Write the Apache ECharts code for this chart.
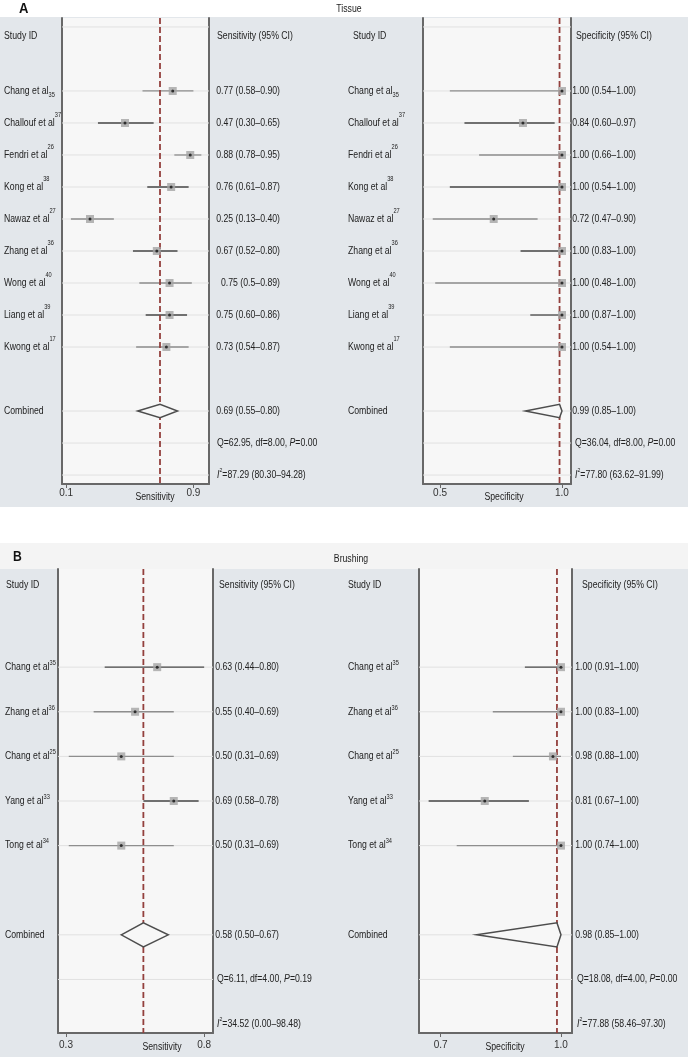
<!DOCTYPE html>
<html><head><meta charset="utf-8">
<script src="https://cdn.jsdelivr.net/npm/echarts@6/dist/echarts.min.js"></script>
<style>html,body{margin:0;padding:0;background:#fff}#c{width:688px;height:1057px}</style>
</head><body><div id="c"></div>
<script>
// ---------------- DATA ----------------
const tissueNames = ['Chang et al','Challouf et al','Fendri et al','Kong et al','Nawaz et al','Zhang et al','Wong et al','Liang et al','Kwong et al'];
const tissueRefs = ['35','37','26','38','27','36','40','39','17'];
const tissueRefPos = ['sub','sup','sup','sup','sup','sup','sup','sup','sup'];

const tissueSens = [0.77,0.47,0.88,0.76,0.25,0.67,0.75,0.75,0.73];
const tissueSensLow = [0.58,0.30,0.78,0.61,0.13,0.52,0.56,0.60,0.54];
const tissueSensHigh = [0.90,0.65,0.95,0.87,0.40,0.80,0.89,0.86,0.87];
const tissueSensText = ['0.77 (0.58–0.90)','0.47 (0.30–0.65)','0.88 (0.78–0.95)','0.76 (0.61–0.87)','0.25 (0.13–0.40)','0.67 (0.52–0.80)','0.75 (0.5–0.89)','0.75 (0.60–0.86)','0.73 (0.54–0.87)'];
const tissueSensPooled = [0.69,0.55,0.80];
const tissueSensPooledText = '0.69 (0.55–0.80)';
const tissueSensQ = ['Q=62.95, df=8.00, ','P','=0.00'];
const tissueSensI2 = '=87.29 (80.30–94.28)';
const tissueSensTicks = [0.1,0.9];

const tissueSpec = [1.00,0.84,1.00,1.00,0.72,1.00,1.00,1.00,1.00];
const tissueSpecLow = [0.54,0.60,0.66,0.54,0.47,0.83,0.48,0.87,0.54];
const tissueSpecHigh = [1.00,0.97,1.00,1.00,0.90,1.00,1.00,1.00,1.00];
const tissueSpecText = ['1.00 (0.54–1.00)','0.84 (0.60–0.97)','1.00 (0.66–1.00)','1.00 (0.54–1.00)','0.72 (0.47–0.90)','1.00 (0.83–1.00)','1.00 (0.48–1.00)','1.00 (0.87–1.00)','1.00 (0.54–1.00)'];
const tissueSpecPooled = [0.99,0.85,1.00];
const tissueSpecPooledText = '0.99 (0.85–1.00)';
const tissueSpecQ = ['Q=36.04, df=8.00, ','P','=0.00'];
const tissueSpecI2 = '=77.80 (63.62–91.99)';
const tissueSpecTicks = [0.5,1.0];

const brushNames = ['Chang et al','Zhang et al','Chang et al','Yang et al','Tong et al'];
const brushRefs = ['35','36','25','33','34'];
const brushRefPos = ['sup','sup','sup','sup','sup'];

const brushSens = [0.63,0.55,0.50,0.69,0.50];
const brushSensLow = [0.44,0.40,0.31,0.58,0.31];
const brushSensHigh = [0.80,0.69,0.69,0.78,0.69];
const brushSensText = ['0.63 (0.44–0.80)','0.55 (0.40–0.69)','0.50 (0.31–0.69)','0.69 (0.58–0.78)','0.50 (0.31–0.69)'];
const brushSensPooled = [0.58,0.50,0.67];
const brushSensPooledText = '0.58 (0.50–0.67)';
const brushSensQ = ['Q=6.11, df=4.00, ','P','=0.19'];
const brushSensI2 = '=34.52 (0.00–98.48)';
const brushSensTicks = [0.3,0.8];

const brushSpec = [1.00,1.00,0.98,0.81,1.00];
const brushSpecLow = [0.91,0.83,0.88,0.67,0.74];
const brushSpecHigh = [1.00,1.00,1.00,0.92,1.00];
const brushSpecText = ['1.00 (0.91–1.00)','1.00 (0.83–1.00)','0.98 (0.88–1.00)','0.81 (0.67–1.00)','1.00 (0.74–1.00)'];
const brushSpecPooled = [0.99,0.79,1.00];
const brushSpecPooledText = '0.98 (0.85–1.00)';
const brushSpecQ = ['Q=18.08, df=4.00, ','P','=0.00'];
const brushSpecI2 = '=77.88 (58.46–97.30)';
const brushSpecTicks = [0.7,1.0];

// ---------------- STYLE ----------------
const FONT = "'Liberation Sans',Arial,Helvetica,sans-serif";
const FS = 10;
const SX = 0.87;
const TXT = '#222';
const tissueShade = ['#8e8e8e','#474747','#8e8e8e','#474747','#8e8e8e','#474747','#8e8e8e','#474747','#8e8e8e'];
const brushShade = ['#474747','#8e8e8e','#8e8e8e','#474747','#8e8e8e'];

const rich = {
  n:{fontSize:FS,fontFamily:FONT,fill:TXT},
  i:{fontSize:FS,fontFamily:FONT,fill:TXT,fontStyle:'italic'},
  sup:{fontSize:6.5,fontFamily:FONT,fill:TXT,padding:[0,0,16,0]},
  supB:{fontSize:6.5,fontFamily:FONT,fill:TXT,padding:[0,0,8,0]},
  sub:{fontSize:6.5,fontFamily:FONT,fill:TXT,padding:[8,0,0,0]},
  isup:{fontSize:6,fontFamily:FONT,fill:TXT,padding:[0,0,10,0]}
};

const grid=[], xAxis=[], yAxis=[], series=[], texts=[];

function hiddenAxes(left, width, L){
  const gi = grid.length;
  grid.push({left:left, top:L.top, width:width, height:L.height, show:false});
  const xi = xAxis.length;
  xAxis.push({gridIndex:gi,type:'value',min:0,max:1,show:false});
  const yi = yAxis.length;
  yAxis.push({gridIndex:gi,type:'value',min:L.yMin,max:L.yMax,inverse:true,show:false});
  return [xi, yi];
}

function addForest(P, L){
  const gi = grid.length;
  grid.push({left:L.plotLeft, top:L.top, width:L.plotWidth, height:L.height, show:true,
    backgroundColor:'#f7f7f7', borderWidth:0});
  const xi = xAxis.length;
  xAxis.push({gridIndex:gi,type:'value',min:L.xMin,max:L.xMax,
    axisLine:{show:true,onZero:false,lineStyle:{color:'#686868',width:2}},
    axisTick:{show:true,customValues:P.ticks,length:4,lineStyle:{color:'#686868',width:1}},
    axisLabel:{show:true,customValues:P.ticks,formatter:v=>v.toFixed(1),fontSize:10,fontFamily:FONT,color:'#333',margin:L.labelMargin},
    splitLine:{show:false}});
  const yi = yAxis.length;
  const yb = {gridIndex:gi,type:'value',min:L.yMin,max:L.yMax,inverse:true,
    axisTick:{show:false},axisLabel:{show:false},splitLine:{show:false},
    axisLine:{show:true,onZero:false,lineStyle:{color:'#686868',width:2}}};
  yAxis.push(Object.assign({},yb,{position:'left'}));
  yAxis.push(Object.assign({},yb,{position:'right'}));

  series.push({type:'custom', xAxisIndex:xi, yAxisIndex:yi, silent:true, z:1, animation:false,
    data:L.gridRows.map(r=>[r]), encode:{y:0},
    renderItem:(params, api)=>{
      const r = api.value(0);
      const a = api.coord([L.xMin,r]), b = api.coord([L.xMax,r]);
      return {type:'line', shape:{x1:a[0],y1:a[1],x2:b[0],y2:b[1]}, style:{stroke:'#e1e1e1',lineWidth:1}};
    }});
  series.push({type:'custom', xAxisIndex:xi, yAxisIndex:yi, silent:true, z:2, animation:false,
    data:P.est.map((e,i)=>[P.lo[i],P.hi[i],i]), encode:{x:[0,1],y:2},
    renderItem:(params, api)=>{
      const r = api.value(2);
      const a = api.coord([api.value(0),r]), b = api.coord([api.value(1),r]);
      return {type:'line', shape:{x1:a[0],y1:a[1],x2:b[0],y2:b[1]},
        style:{stroke:P.shade[params.dataIndex],lineWidth:1.3}};
    }});
  series.push({type:'line', xAxisIndex:xi, yAxisIndex:yi, silent:true, z:3, animation:false,
    symbol:'none', data:[[P.pooled[0],L.yMin],[P.pooled[0],L.yMax]],
    lineStyle:{color:'#93403d',width:1.8,type:[6,3]}});
  series.push({type:'scatter', xAxisIndex:xi, yAxisIndex:yi, silent:true, z:4, animation:false,
    symbol:'rect', symbolSize:8, itemStyle:{color:'#a4a4a4'}, clip:false,
    data:P.est.map((e,i)=>[e,i])});
  series.push({type:'scatter', xAxisIndex:xi, yAxisIndex:yi, silent:true, z:5, animation:false,
    symbol:'circle', symbolSize:3, itemStyle:{color:'#111'}, clip:false,
    data:P.est.map((e,i)=>[e,i])});
  series.push({type:'custom', xAxisIndex:xi, yAxisIndex:yi, silent:true, z:4, animation:false,
    data:[[P.pooled[0],P.pooled[1],P.pooled[2],L.combinedRow]], encode:{x:[0,1,2],y:3},
    renderItem:(params, api)=>{
      const e=api.value(0), lo=api.value(1), hi=api.value(2), r=api.value(3), h=L.diamondH;
      const pts=[api.coord([lo,r]),api.coord([e,r-h]),api.coord([hi,r]),api.coord([e,r+h])];
      return {type:'polygon', shape:{points:pts}, style:{fill:'#f7f7f7',stroke:'#4d4d4d',lineWidth:1.5}};
    }});

  // label column
  const [lx, ly] = hiddenAxes(L.labelLeft, L.labelWidth, L);
  P.names.forEach((n,i)=>texts.push({xi:lx,yi:ly,x:0,y:i,align:'left',
    text:'{n|'+n+'}{'+(P.refPos[i]==='sub'?'sub':L.supStyle)+'|'+P.refs[i]+'}'}));
  texts.push({xi:lx,yi:ly,x:0,y:L.combinedRow,align:'left',text:'{n|Combined}'});

  // value column
  const [tx, ty] = hiddenAxes(L.textLeft, L.textRight-L.textLeft, L);
  P.text.forEach((t,i)=>texts.push({xi:tx,yi:ty,x:1,y:i,align:'right',text:'{n|'+t+'}'}));
  texts.push({xi:tx,yi:ty,x:1,y:L.combinedRow,align:'right',text:'{n|'+P.pooledText+'}'});
  texts.push({xi:tx,yi:ty,x:0,y:L.combinedRow+1,align:'left',text:'{n|'+P.q[0]+'}{i|'+P.q[1]+'}{n|'+P.q[2]+'}'});
  texts.push({xi:tx,yi:ty,x:0,y:L.combinedRow+2,align:'left',text:'{i|I}{isup|2}{n|'+P.i2+'}'});
}

const LA = {top:18,height:466,yMin:-2.28,yMax:12.28,labelMargin:4,diamondH:0.21,supStyle:'sup',
  gridRows:[-2,0,1,2,3,4,5,6,7,8,10,11,12],combinedRow:10};
const LB = {top:569,height:464,yMin:-2.2,yMax:8.2,labelMargin:7,diamondH:0.27,supStyle:'supB',
  gridRows:[0,1,2,3,4,6,7],combinedRow:6};

addForest({names:tissueNames,refs:tissueRefs,refPos:tissueRefPos,est:tissueSens,lo:tissueSensLow,hi:tissueSensHigh,
  text:tissueSensText,pooled:tissueSensPooled,pooledText:tissueSensPooledText,q:tissueSensQ,i2:tissueSensI2,
  ticks:tissueSensTicks,shade:tissueShade},
  Object.assign({},LA,{plotLeft:62,plotWidth:147,xMin:0.074,xMax:0.998,labelLeft:4,labelWidth:56,textLeft:217,textRight:280}));
addForest({names:tissueNames,refs:tissueRefs,refPos:tissueRefPos,est:tissueSpec,lo:tissueSpecLow,hi:tissueSpecHigh,
  text:tissueSpecText,pooled:tissueSpecPooled,pooledText:tissueSpecPooledText,q:tissueSpecQ,i2:tissueSpecI2,
  ticks:tissueSpecTicks,shade:tissueShade},
  Object.assign({},LA,{plotLeft:423,plotWidth:148,xMin:0.430,xMax:1.037,labelLeft:348,labelWidth:72,textLeft:575,textRight:636}));
addForest({names:brushNames,refs:brushRefs,refPos:brushRefPos,est:brushSens,lo:brushSensLow,hi:brushSensHigh,
  text:brushSensText,pooled:brushSensPooled,pooledText:brushSensPooledText,q:brushSensQ,i2:brushSensI2,
  ticks:brushSensTicks,shade:brushShade},
  Object.assign({},LB,{plotLeft:58,plotWidth:155,xMin:0.271,xMax:0.832,labelLeft:5,labelWidth:52,textLeft:217,textRight:279}));
addForest({names:brushNames,refs:brushRefs,refPos:brushRefPos,est:brushSpec,lo:brushSpecLow,hi:brushSpecHigh,
  text:brushSpecText,pooled:brushSpecPooled,pooledText:brushSpecPooledText,q:brushSpecQ,i2:brushSpecI2,
  ticks:brushSpecTicks,shade:brushShade},
  Object.assign({},LB,{plotLeft:419,plotWidth:153,xMin:0.646,xMax:1.0275,labelLeft:348,labelWidth:70,textLeft:577,textRight:639}));

function txt(x,y,s,opt){
  return Object.assign({type:'text',x:x,y:y,silent:true,z:50,scaleX:SX,
    style:Object.assign({text:s,font:FS+'px '+FONT,fill:TXT,textAlign:'left',textVerticalAlign:'middle'},opt||{})});
}
const baseGraphic = [
  {type:'rect',shape:{x:0,y:17,width:688,height:490},style:{fill:'#e3e7eb'},z:-100,silent:true},
  {type:'rect',shape:{x:0,y:543,width:688,height:26},style:{fill:'#f4f4f4'},z:-100,silent:true},
  {type:'rect',shape:{x:0,y:569,width:688,height:488},style:{fill:'#e3e7eb'},z:-100,silent:true},
  txt(19,9,'A',{font:'bold 15px '+FONT,fill:'#111'}),
  txt(349,9,'Tissue',{textAlign:'center'}),
  txt(4,36,'Study ID'), txt(353,36,'Study ID'),
  txt(217,36,'Sensitivity (95% CI)'), txt(576,36,'Specificity (95% CI)'),
  txt(155,497,'Sensitivity',{textAlign:'center'}), txt(504,497,'Specificity',{textAlign:'center'}),
  txt(13,557,'B',{font:'bold 14px '+FONT,fill:'#111'}),
  txt(351,559,'Brushing',{textAlign:'center'}),
  txt(6,585,'Study ID'), txt(348,585,'Study ID'),
  txt(219,585,'Sensitivity (95% CI)'), txt(582,585,'Specificity (95% CI)'),
  txt(162,1047,'Sensitivity',{textAlign:'center'}), txt(505,1047,'Specificity',{textAlign:'center'})
];

const chart = echarts.init(document.getElementById('c'), null, {renderer:'canvas', width:688, height:1057});
chart.setOption({animation:false, backgroundColor:'#ffffff', grid, xAxis, yAxis, series});
const rowTexts = texts.map(t=>{
  const p = chart.convertToPixel({xAxisIndex:t.xi, yAxisIndex:t.yi}, [t.x, t.y]);
  return {type:'text', x:p[0], y:p[1], scaleX:SX, silent:true, z:50,
    style:{text:t.text, rich:rich, font:FS+'px '+FONT, fill:TXT, textAlign:t.align, textVerticalAlign:'middle'}};
});
chart.setOption({graphic: baseGraphic.concat(rowTexts)});
</script>
</body></html>
